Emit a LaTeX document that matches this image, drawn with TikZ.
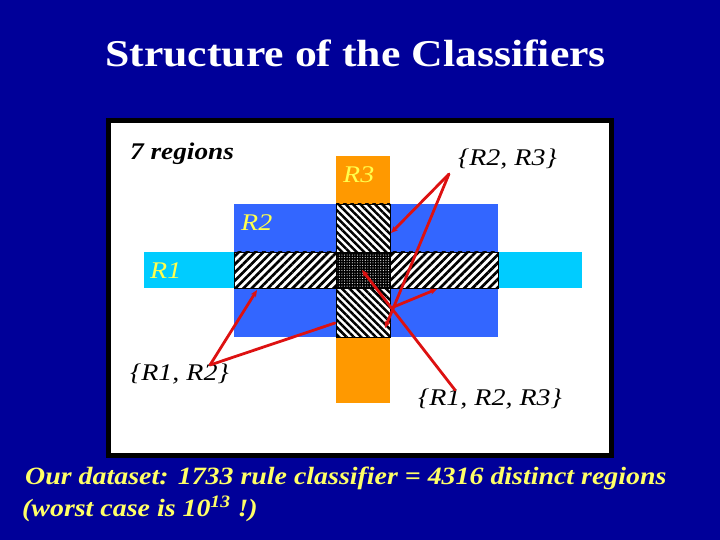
\documentclass[tikz,border=0pt]{standalone}
\usepackage{fontspec}
\setmainfont{Liberation Serif}
\usepackage{graphicx}
\usetikzlibrary{patterns.meta,arrows.meta}
\definecolor{bg}{HTML}{000099}
\definecolor{rone}{HTML}{00CCFF}
\definecolor{rtwo}{HTML}{3366FF}
\definecolor{rthree}{HTML}{FF9900}
\definecolor{lab}{HTML}{FFFF4D}
\definecolor{foot}{HTML}{FFFF66}
\definecolor{arr}{HTML}{DD1111}
\newcommand{\sxx}[1]{\scalebox{1.17}[1]{#1}}
\newcommand{\sxf}[1]{\scalebox{1.12}[1]{#1}}
\tikzset{
  txt/.style={inner sep=0pt, anchor=base west},
  rlab/.style={txt, text=lab, font=\fontsize{24}{26}\selectfont\itshape},
  blab/.style={txt, text=black, font=\fontsize{24}{26}\selectfont\itshape},
  footer/.style={txt, text=foot, font=\fontsize{25}{28}\selectfont\bfseries\itshape},
  callout/.style={draw=arr, line width=2.8pt, line cap=round},
  tip/.style={-{Stealth[length=7pt,width=6pt]}},
  hatchbox/.style={draw=black, line width=0.8pt}
}
\begin{document}
\begin{tikzpicture}[x=1bp,y=-1bp]
\useasboundingbox (0,0) rectangle (720,540);
\fill[bg] (0,0) rectangle (720,540);
% title
\node[txt, text=white, font=\fontsize{38}{40}\selectfont\bfseries] (title) at (105,67) {\scalebox{1.155}[1]{Structure of the Classifiers}};
% frame
\draw[fill=white, draw=black, line width=5bp] (108.5,120.5) rectangle (611.5,455.5);
% regions
\fill[rthree] (336,156) rectangle (390,403);
\fill[rtwo] (234,204) rectangle (498,337);
\fill[rone] (144,252) rectangle (582,288);
% hatched intersections
\fill[white] (234,252) rectangle (498,288);
\fill[pattern={Lines[angle=45,distance=5.8pt,line width=2.7pt]}, pattern color=black] (234,252) rectangle (498,288);
\fill[white] (336,204) rectangle (390,337);
\fill[pattern={Lines[angle=-45,distance=5.2pt,line width=2.5pt]}, pattern color=black] (336,204) rectangle (390,337);
\fill[black] (336,252) rectangle (390,288);
\fill[pattern={Dots[distance=2.6pt,radius=0.55pt]}, pattern color=white] (336,252) rectangle (390,288);
\draw[hatchbox] (234,252) rectangle (498,288);
\draw[hatchbox] (336,204) rectangle (390,337);
% labels
\node[blab, font=\fontsize{24}{26}\selectfont\bfseries\itshape] (seven) at (130,160) {\scalebox{1.14}[1]{7 regions}};
\node[rlab] (r3) at (343,183) {\sxx{R3}};
\node[rlab] (r2) at (241,231) {\sxx{R2}};
\node[rlab] (r1) at (150,279) {\sxx{R1}};
\node[blab] (l23) at (458,166) {\sxx{\{R2, R3\}}};
\node[blab] (l12) at (130,380) {\sxx{\{R1, R2\}}};
\node[blab] (l123) at (418,405) {\sxx{\{R1, R2, R3\}}};
% callout points
\coordinate (a23) at (449,174);
\coordinate (a12) at (210,365);
\coordinate (a123) at (455,390);
\coordinate (t23a) at (391,233);
\coordinate (t23b) at (385,328);
\coordinate (t12a) at (257,290);
\coordinate (t12b) at (335,323);
\coordinate (t123) at (362,270);
\coordinate (b123) at (391,308);
\coordinate (t123b) at (437,289);
% callouts
\draw[callout, tip] (a23) -- (t23a);
\draw[callout, tip] (a23) -- (t23b);
\draw[callout, tip] (a12) -- (t12a);
\draw[callout] (a12) -- (t12b);
\draw[callout, tip] (a123) -- (t123);
\draw[callout, tip] (b123) -- (t123b);
% footer
\node[footer] (foot1) at (25,484) {\sxf{Our dataset: 1733 rule classifier = 4316 distinct regions}};
\node[footer] (foot2) at (22,516) {\sxf{(worst case is 10\textsuperscript{13} !)}};
\end{tikzpicture}
\end{document}
